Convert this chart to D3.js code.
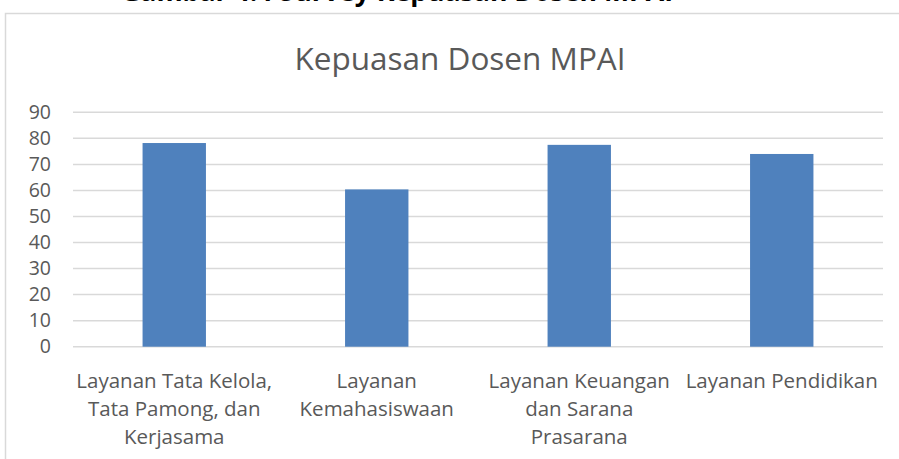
<!DOCTYPE html>
<html>
<head>
<meta charset="utf-8">
<script src="https://cdn.jsdelivr.net/npm/d3@7"></script>
<style>
  body { margin: 0; background: #fff; }
  text { font-family: "Open Sans", Lato, sans-serif; }
</style>
</head>
<body>
<div id="chart"></div>
<script>
// Define SVG area dimensions
var svgWidth = 899;
var svgHeight = 459;

// chart data
var categories = [
  ["Layanan Tata Kelola,", "Tata Pamong, dan", "Kerjasama"],
  ["Layanan", "Kemahasiswaan"],
  ["Layanan Keuangan", "dan Sarana", "Prasarana"],
  ["Layanan Pendidikan"]
];
var values = [78.2, 60.4, 77.5, 74.0];
var yTicks = [0, 10, 20, 30, 40, 50, 60, 70, 80, 90];

var plot = { left: 73, right: 883, top: 112.3, bottom: 346.7 };

var svg = d3.select("#chart")
  .append("svg")
  .attr("width", svgWidth)
  .attr("height", svgHeight);

// caption cut at the top of the page
svg.append("text")
  .attr("x", 121)
  .attr("y", 0.5)
  .attr("font-weight", "bold")
  .attr("font-size", 26)
  .attr("fill", "#000")
  .attr("textLength", 552)
  .attr("lengthAdjust", "spacingAndGlyphs")
  .text("Gambar 4.4 Survey Kepuasan Dosen MPAI");

// chart frame
svg.append("rect")
  .attr("x", 5.5)
  .attr("y", 13.5)
  .attr("width", svgWidth + 20)
  .attr("height", svgHeight + 20)
  .attr("fill", "none")
  .attr("stroke", "#d9d9d9")
  .attr("stroke-width", 1.5);

// title
svg.append("text")
  .attr("x", 460)
  .attr("y", 70)
  .attr("text-anchor", "middle")
  .attr("font-size", 31.5)
  .attr("fill", "#595959")
  .text("Kepuasan Dosen MPAI");

// scales
var xScale = d3.scaleBand()
  .domain(d3.range(categories.length))
  .range([plot.left, plot.right])
  .paddingInner(0.687)
  .paddingOuter(0.3435);

var yScale = d3.scaleLinear()
  .domain([0, 90])
  .range([plot.bottom, plot.top]);

// gridlines
svg.append("g")
  .selectAll("line")
  .data(yTicks)
  .enter()
  .append("line")
  .attr("x1", plot.left)
  .attr("x2", plot.right)
  .attr("y1", d => yScale(d))
  .attr("y2", d => yScale(d))
  .attr("stroke", "#d9d9d9")
  .attr("stroke-width", 1.5);

// y axis labels
var yAxis = d3.axisLeft(yScale)
  .tickValues(yTicks)
  .tickSize(0)
  .tickPadding(0);

var yAxisG = svg.append("g")
  .attr("transform", "translate(51, 0)")
  .call(yAxis);
yAxisG.select(".domain").remove();
yAxisG.selectAll("text")
  .attr("font-family", "'Open Sans', Lato, sans-serif")
  .attr("font-size", 19.5)
  .attr("fill", "#595959");

// bars
svg.append("g")
  .selectAll("rect")
  .data(values)
  .enter()
  .append("rect")
  .attr("x", (d, i) => xScale(i))
  .attr("y", d => yScale(d))
  .attr("width", xScale.bandwidth())
  .attr("height", d => yScale(0) - yScale(d))
  .attr("fill", "#4f81bd");

// x labels
var labels = svg.append("g")
  .selectAll("text")
  .data(categories)
  .enter()
  .append("text")
  .attr("text-anchor", "middle")
  .attr("font-size", 20.5)
  .attr("fill", "#595959")
  .attr("x", (d, i) => xScale(i) + xScale.bandwidth() / 2)
  .attr("y", 388);

labels.selectAll("tspan")
  .data(d => d)
  .enter()
  .append("tspan")
  .attr("x", function() { return d3.select(this.parentNode).attr("x"); })
  .attr("dy", (d, i) => i === 0 ? 0 : 28)
  .text(d => d);
</script>
</body>
</html>
